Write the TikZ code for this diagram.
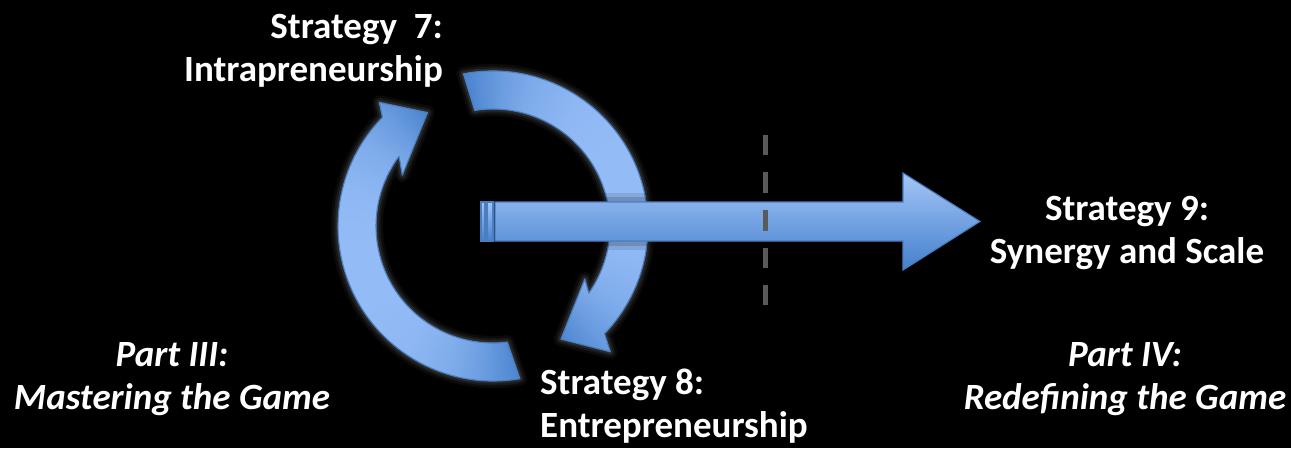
\documentclass[tikz,border=0pt]{standalone}
\usepackage{fontspec}
\setmainfont{Carlito}
\usetikzlibrary{calc}

\definecolor{blueLight}{HTML}{93BBF6}
\definecolor{blueMid}{HTML}{7FABEC}
\definecolor{blueDark}{HTML}{4580CC}
\definecolor{blueEdge}{HTML}{4A7EC0}
\definecolor{dashGray}{HTML}{5A5A5A}

% outlines of the two circular arrows around the centre C
\newcommand\LeftArcPath{%
  ($(C)+(280:155pt)$) arc[start angle=280, end angle=135.5, radius=155pt]
  -- ($(C)+(132.6:168pt)$) -- ($(C)+(120:131pt)$) -- ($(C)+(150.7:104pt)$)
  -- ($(C)+(143.4:117pt)$) arc[start angle=143.4, end angle=277, radius=117pt]
  -- cycle}
\newcommand\RightArcPath{%
  ($(C)+(101:155pt)$) arc[start angle=101, end angle=-44, radius=155pt]
  -- ($(C)+(-47:172pt)$) -- ($(C)+(-59:132pt)$) -- ($(C)+(-30:106pt)$)
  -- ($(C)+(-35:117pt)$) arc[start angle=-35, end angle=99, radius=117pt]
  -- cycle}

% angular gradient: light in the middle of the sweep, dark at both ends
% #1 first angle, #2 last angle, #3 middle angle, #4 half sweep
\newcommand\SweepFill[4]{%
  \foreach \wa in {#1,...,#2}{%
    \pgfmathsetmacro\wf{min(abs(\wa-#3)/#4,1)}%
    \pgfmathsetmacro\wp{100*(1-\wf*\wf*\wf)}%
    \colorlet{wedgecol}{blueLight!\wp!blueDark}%
    \fill[wedgecol] (C) -- ($(C)+(\wa:200pt)$)
      arc[start angle=\wa, end angle=\wa+1.6, radius=200pt] -- cycle;
  }}

\begin{document}
\begin{tikzpicture}[x=1pt,y=1pt,
  lbl/.style={text=white, inner sep=0pt, font=\fontsize{37}{43}\selectfont\bfseries},
  partlbl/.style={lbl, font=\fontsize{37}{43}\selectfont\bfseries\itshape},
  halo/.style={
    preaction={draw=#1, line width=14pt, opacity=0.04, line join=round},
    preaction={draw=#1, line width=9pt, opacity=0.06, line join=round},
    preaction={draw=#1, line width=5pt, opacity=0.08, line join=round}},
  shadowband/.style={
    preaction={draw=black, line width=18pt, opacity=0.10, line join=round},
    preaction={draw=black, line width=10pt, opacity=0.15, line join=round}},
  arcedge/.style={draw=blueEdge, line width=1.1pt, line join=round},
  bararrow/.style={draw=blueEdge, line width=1.1pt, line join=miter,
    top color=blueLight!85!white, middle color=blueMid, bottom color=blueDark},
  dashmark/.style={draw=dashGray, line width=5pt, dash pattern=on 20.5pt off 17pt}
]
% canvas
\fill[black] (0,0) rectangle (1291,448);
\useasboundingbox (0,0) rectangle (1291,448);

% centre of the cycle
\coordinate (C) at (493,222);

% left circular arrow: from the bottom, over the left side, up to the top
\path[halo=white] \LeftArcPath;
\begin{scope}
  \clip \LeftArcPath;
  \SweepFill{116}{284}{200}{82}
\end{scope}
\draw[arcedge] \LeftArcPath;

% right circular arrow: from the top, down the right side, to the bottom
\path[halo=white] \RightArcPath;
\begin{scope}
  \clip \RightArcPath;
  \SweepFill{-64}{104}{20}{82}
\end{scope}
\draw[arcedge] \RightArcPath;

% striped block arrow leaving the cycle
\path[shadowband] (481,207) rectangle (903,246);
\draw[bararrow]
  (495,207) -- (903,207) -- (903,178) -- (980,226.5) -- (903,275)
  -- (903,246) -- (495,246) -- cycle;
\draw[bararrow] (481,207) rectangle (485,246);
\draw[bararrow] (487,207) rectangle (493,246);

% dashed divider between the two parts
\coordinate (dtop) at (765,313);
\coordinate (dbot) at (765,143);
\draw[dashmark] (dtop) -- (dbot);

% labels
\node[lbl, align=right, anchor=north east] (s7) at (443,440.1)
  {\strut Strategy\ \ 7:\\Intrapreneurship};
\node[lbl, align=center, anchor=north] (s9) at (1127,258.1)
  {\strut Strategy 9:\\Synergy and Scale};
\node[lbl, align=left, anchor=north west] (s8) at (540,84.1)
  {\strut Strategy 8:\\Entrepreneurship};
\node[partlbl, align=center, anchor=north] (p3) at (172,112.1)
  {\strut Part III:\\Mastering the Game};
\node[partlbl, align=center, anchor=north] (p4) at (1125,112.1)
  {\strut Part IV:\\Redefining the Game};
\end{tikzpicture}
\end{document}
